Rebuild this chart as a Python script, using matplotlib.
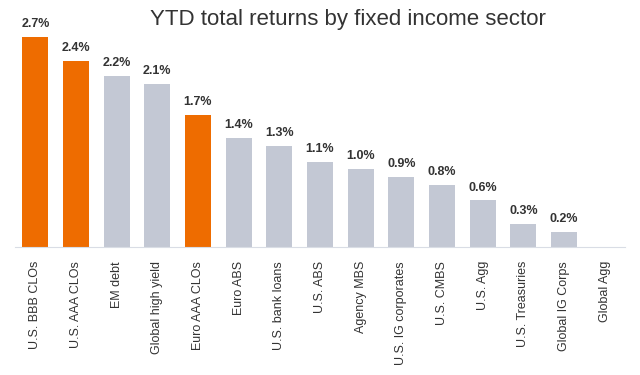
import matplotlib.pyplot as plt
import numpy as np

plt.rcParams['font.family'] = ['Liberation Sans', 'DejaVu Sans']

sectors = ['U.S. BBB CLOs', 'U.S. AAA CLOs', 'EM debt', 'Global high yield', 'Euro AAA CLOs',
           'Euro ABS', 'U.S. bank loans', 'U.S. ABS', 'Agency MBS', 'U.S. IG corporates',
           'U.S. CMBS', 'U.S. Agg', 'U.S. Treasuries', 'Global IG Corps', 'Global Agg']
returns = [2.7, 2.4, 2.2, 2.1, 1.7, 1.4, 1.3, 1.1, 1.0, 0.9, 0.8, 0.6, 0.3, 0.2, 0.0]
highlight = ['U.S. BBB CLOs', 'U.S. AAA CLOs', 'Euro AAA CLOs']

orange = '#EE6C00'
grey = '#C3C8D4'
colors = [orange if s in highlight else grey for s in sectors]

fig = plt.figure(figsize=(6.4, 3.75), dpi=100)
ax = fig.add_axes([15 / 640, 0.341, 610 / 640, 0.622])

x = np.arange(len(sectors))
bars = ax.bar(x, returns, width=0.64, color=colors)

for bar, val in zip(bars, returns):
    if val > 0:
        ax.annotate(f'{val:.1f}%', xy=(bar.get_x() + bar.get_width() / 2, val),
                    xytext=(0, 5), textcoords='offset points', ha='center', va='bottom',
                    fontsize=9, fontweight='bold', color='#333333')

ax.set_xlim(-0.5, 14.5)
ax.set_ylim(0, 3.0)
ax.set_xticks(x)
ax.set_xticklabels(sectors, rotation=90, fontsize=9, color='#333333')
ax.tick_params(axis='x', length=0, pad=10)
ax.set_yticks([])
for side in ['top', 'right', 'left']:
    ax.spines[side].set_visible(False)
ax.spines['bottom'].set_color('#D9DDE5')

fig.text(348 / 640, 1 - 20 / 375, 'YTD total returns by fixed income sector',
         ha='center', va='center', fontsize=16, color='#333333')

fig.savefig('out.png', dpi=100)
